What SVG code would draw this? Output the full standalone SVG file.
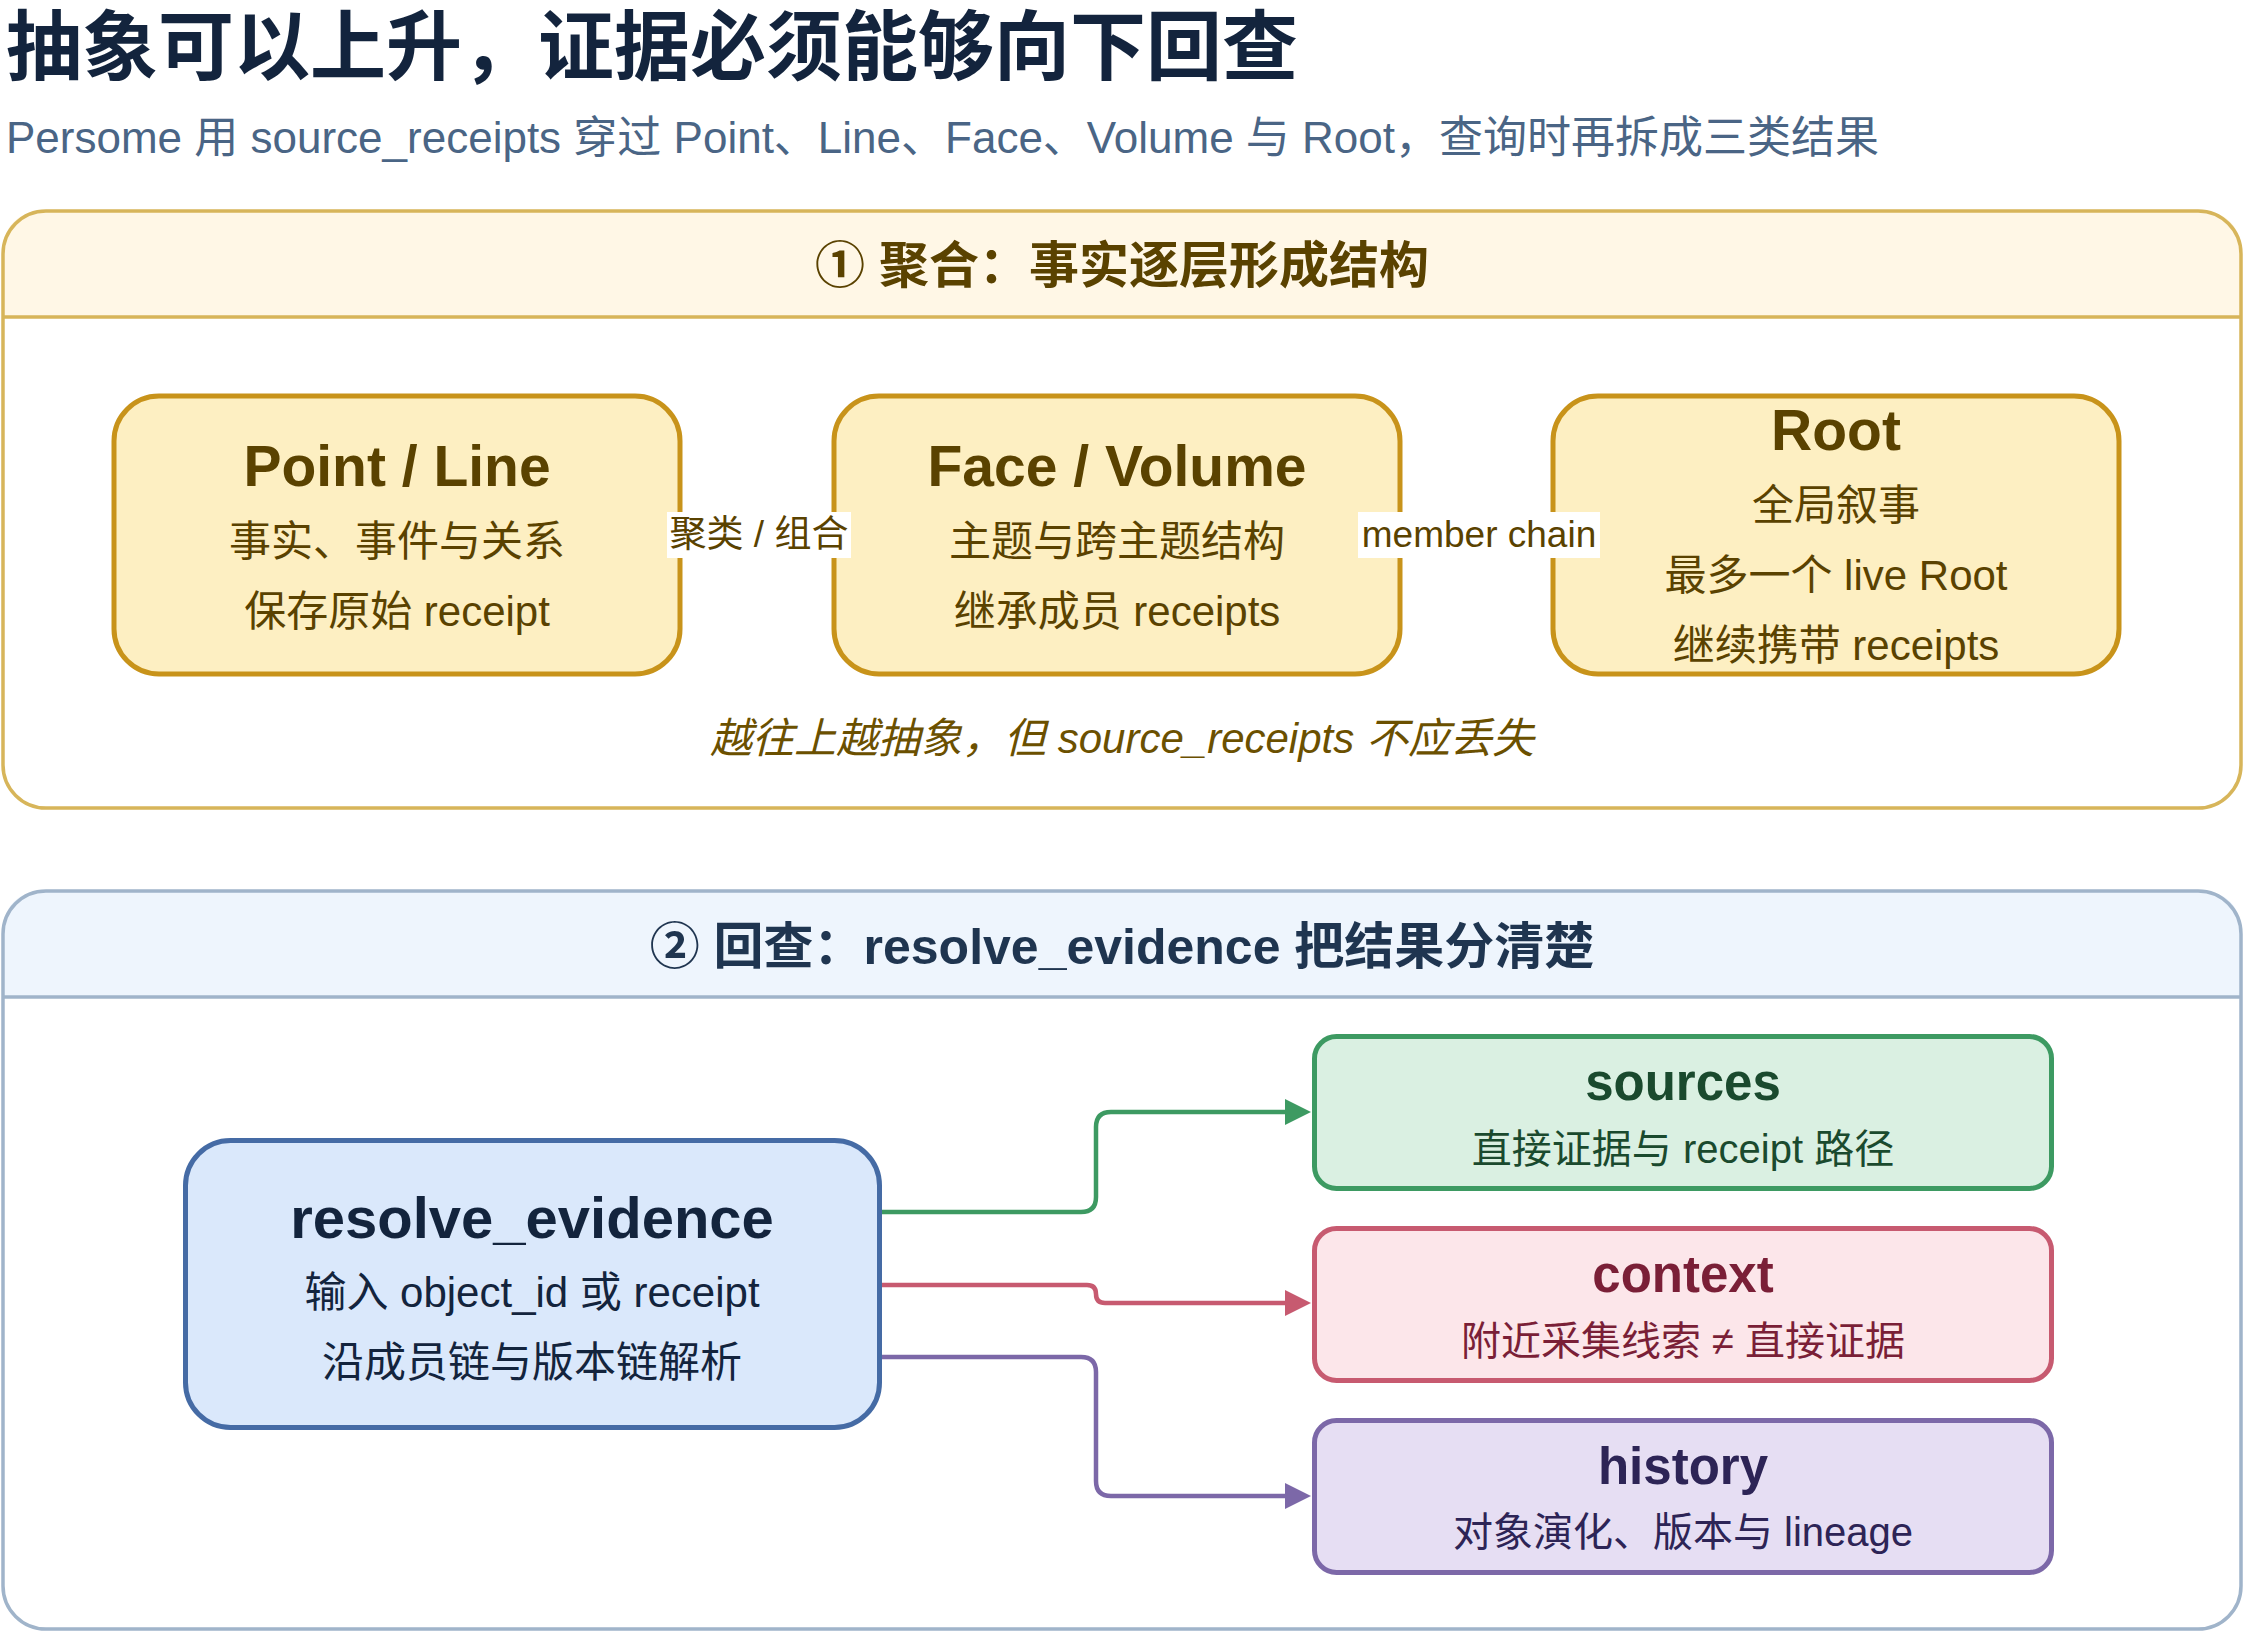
<svg xmlns="http://www.w3.org/2000/svg" width="2246" height="1634" viewBox="0 0 2246 1634">
<style>
text{font-family:"Liberation Sans","Noto Sans CJK SC",sans-serif;}
.b{font-weight:bold;}
.c{text-anchor:middle;}
.gold-node{fill:#fdefc2;stroke:#c8931a;stroke-width:5;}
.gold-t{fill:#5a4200;}
.lbl{fill:#ffffff;}
.edge{fill:none;stroke-width:4.5;}
</style>
<defs>
<marker id="arrG" viewBox="0 0 26 26" refX="15" refY="13" markerWidth="26" markerHeight="26" markerUnits="userSpaceOnUse" orient="auto"><path d="M0,0 L26,13 L0,26 Z" fill="#3d9a62"/></marker>
<marker id="arrR" viewBox="0 0 26 26" refX="15" refY="13" markerWidth="26" markerHeight="26" markerUnits="userSpaceOnUse" orient="auto"><path d="M0,0 L26,13 L0,26 Z" fill="#c75a70"/></marker>
<marker id="arrP" viewBox="0 0 26 26" refX="15" refY="13" markerWidth="26" markerHeight="26" markerUnits="userSpaceOnUse" orient="auto"><path d="M0,0 L26,13 L0,26 Z" fill="#7c68a8"/></marker>
<marker id="arrY" viewBox="0 0 26 26" refX="15" refY="13" markerWidth="26" markerHeight="26" markerUnits="userSpaceOnUse" orient="auto"><path d="M0,0 L26,13 L0,26 Z" fill="#c8931a"/></marker>
</defs>
<rect width="2246" height="1634" fill="#ffffff"/>

<g id="title">
<text x="6" y="74" font-size="76" class="b" fill="#13243d">抽象可以上升，证据必须能够向下回查</text>
<text x="6" y="153" font-size="44" fill="#4a6585">Persome 用 source_receipts 穿过 Point、Line、Face、Volume 与 Root，查询时再拆成三类结果</text>
</g>

<g id="section1">
<path d="M3,317 V254 Q3,211 46,211 H2198 Q2241,211 2241,254 V317 Z" fill="#fff7e6"/>
<rect x="3" y="211" width="2238" height="597" rx="43" fill="none" stroke="#d7b55a" stroke-width="3.5"/>
<line x1="3" y1="317" x2="2241" y2="317" stroke="#d7b55a" stroke-width="3.5"/>
<text x="1122" y="283" font-size="50" class="b c" fill="#5a4200">① 聚合：事实逐层形成结构</text>
<text x="1122" y="753" font-size="42" class="c" font-style="italic" fill="#6b5000">越往上越抽象，但 source_receipts 不应丢失</text>
</g>

<g id="section2">
<path d="M3,997 V934 Q3,891 46,891 H2198 Q2241,891 2241,934 V997 Z" fill="#eef5fd"/>
<rect x="3" y="891" width="2238" height="738" rx="43" fill="none" stroke="#a0b4ca" stroke-width="3.5"/>
<line x1="3" y1="997" x2="2241" y2="997" stroke="#a0b4ca" stroke-width="3.5"/>
<text x="1122" y="964" font-size="50" class="b c" fill="#1f3550">② 回查：resolve_evidence 把结果分清楚</text>
</g>

<g id="node-point-line">
<rect x="114" y="396" width="566" height="278" rx="45" class="gold-node"/>
<text x="397" y="486" font-size="57" class="b c gold-t">Point / Line</text>
<text x="397" y="556" font-size="42" class="c gold-t">事实、事件与关系</text>
<text x="397" y="626" font-size="42" class="c gold-t">保存原始 receipt</text>
</g>

<g id="node-face-volume">
<rect x="834" y="396" width="566" height="278" rx="45" class="gold-node"/>
<text x="1117" y="486" font-size="57" class="b c gold-t">Face / Volume</text>
<text x="1117" y="556" font-size="42" class="c gold-t">主题与跨主题结构</text>
<text x="1117" y="626" font-size="42" class="c gold-t">继承成员 receipts</text>
</g>

<g id="node-root">
<rect x="1553" y="396" width="566" height="278" rx="45" class="gold-node"/>
<text x="1836" y="450" font-size="57" class="b c gold-t">Root</text>
<text x="1836" y="520" font-size="42" class="c gold-t">全局叙事</text>
<text x="1836" y="590" font-size="42" class="c gold-t">最多一个 live Root</text>
<text x="1836" y="660" font-size="42" class="c gold-t">继续携带 receipts</text>
</g>

<g id="node-resolve-evidence">
<rect x="185.5" y="1140.5" width="694" height="287" rx="45" fill="#dae8fb" stroke="#456ba5" stroke-width="5"/>
<text x="532" y="1238" font-size="58" class="b c" fill="#13243d">resolve_evidence</text>
<text x="532" y="1307" font-size="42" class="c" fill="#13243d">输入 object_id 或 receipt</text>
<text x="532" y="1377" font-size="42" class="c" fill="#13243d">沿成员链与版本链解析</text>
</g>

<g id="node-sources">
<rect x="1314.5" y="1036.5" width="737" height="152" rx="22" fill="#daf0e2" stroke="#3d9a62" stroke-width="5"/>
<text x="1683" y="1100" font-size="51" class="b c" fill="#1a4a2e">sources</text>
<text x="1683" y="1163" font-size="40" class="c" fill="#1a4a2e">直接证据与 receipt 路径</text>
</g>

<g id="node-context">
<rect x="1314.5" y="1228.5" width="737" height="152" rx="22" fill="#fce6ea" stroke="#c75a70" stroke-width="5"/>
<text x="1683" y="1292" font-size="51" class="b c" fill="#7a1f37">context</text>
<text x="1683" y="1355" font-size="40" class="c" fill="#7a1f37">附近采集线索 ≠ 直接证据</text>
</g>

<g id="node-history">
<rect x="1314.5" y="1420.5" width="737" height="152" rx="22" fill="#e6def3" stroke="#7c68a8" stroke-width="5"/>
<text x="1683" y="1484" font-size="51" class="b c" fill="#2d2456">history</text>
<text x="1683" y="1546" font-size="40" class="c" fill="#2d2456">对象演化、版本与 lineage</text>
</g>

<g id="connectors">
<path class="edge" d="M681,535 H820" stroke="#c8931a" marker-end="url(#arrY)"/>
<path class="edge" d="M1401,535 H1540" stroke="#c8931a" marker-end="url(#arrY)"/>
<path class="edge" d="M882,1212 H1081 Q1096,1212 1096,1197 V1127 Q1096,1112 1111,1112 H1300" stroke="#3d9a62" marker-end="url(#arrG)"/>
<path class="edge" d="M882,1285 H1087 Q1096,1285 1096,1294 Q1096,1303 1105,1303 H1300" stroke="#c75a70" marker-end="url(#arrR)"/>
<path class="edge" d="M882,1357 H1081 Q1096,1357 1096,1372 V1481 Q1096,1496 1111,1496 H1300" stroke="#7c68a8" marker-end="url(#arrP)"/>
<rect x="667" y="512" width="184" height="46" class="lbl"/>
<text x="759" y="547" font-size="37" class="c" fill="#5a4200">聚类 / 组合</text>
<rect x="1358" y="512" width="242" height="46" class="lbl"/>
<text x="1479" y="547" font-size="37" class="c" fill="#5a4200">member chain</text>
</g>
</svg>
